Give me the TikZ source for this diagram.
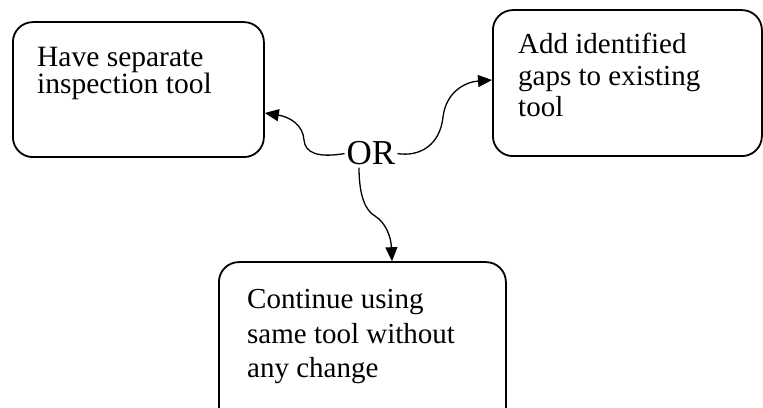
\documentclass[tikz,border=0pt]{standalone}
\usepackage{fontspec}
\setmainfont{Liberation Serif}
\usetikzlibrary{arrows.meta,calc}
\begin{document}
\begin{tikzpicture}[x=1pt,y=1pt,
  box/.style={draw,line width=1.8pt,rounded corners=20pt,inner sep=0pt},
  boxtext/.style={anchor=base west,align=left,inner sep=0pt,font=\fontsize{29}{29}\selectfont},
  conn/.style={line width=1.3pt,-{Triangle[length=14pt,width=12pt]}}]
\useasboundingbox (0,0) rectangle (763,407);
\clip (0,0) rectangle (763,407);
% boxes
\node[box,minimum width=251pt,minimum height=135pt,anchor=south west] (b1) at (12,249) {};
\node[box,minimum width=269pt,minimum height=146pt,anchor=south west] (b2) at (492,250) {};
\node[box,minimum width=287pt,minimum height=170pt,anchor=south west] (b3) at (218,-26) {};
% texts (anchor base = baseline of the last line)
\node[boxtext,font=\fontsize{29.5}{26}\selectfont] (t1) at (37,313) {Have separate\\inspection tool};
\node[boxtext,font=\fontsize{29}{31.5}\selectfont] (t2) at (518,290) {Add identified\\gaps to existing\\tool};
\node[boxtext,font=\fontsize{29}{35}\selectfont] (t3) at (247,29) {Continue using\\same tool without\\any change};
% OR
\node[anchor=base,inner sep=2pt,font=\fontsize{35}{35}\selectfont] (or) at (371,242) {OR};
% connector end points on the boxes
\coordinate (e1) at (b1.east |- 0,294);
\coordinate (e2) at (b2.west |- 0,327);
\coordinate (e3) at (b3.north -| 392,0);
\coordinate (s3) at (or.south -| 359,0);
% connectors
\draw[conn] (or.west) .. controls (318,249) and (305,254) .. (304,267)
  .. controls (303,282) and (290,290) .. (e1);
\draw[conn] (or.east) .. controls (420,250) and (440,262) .. (443,290)
  .. controls (446,315) and (465,325) .. (e2);
\draw[conn] (s3) .. controls (359,210) and (366,196) .. (375,191)
  .. controls (386,184) and (391,170) .. (e3);
\end{tikzpicture}
\end{document}
